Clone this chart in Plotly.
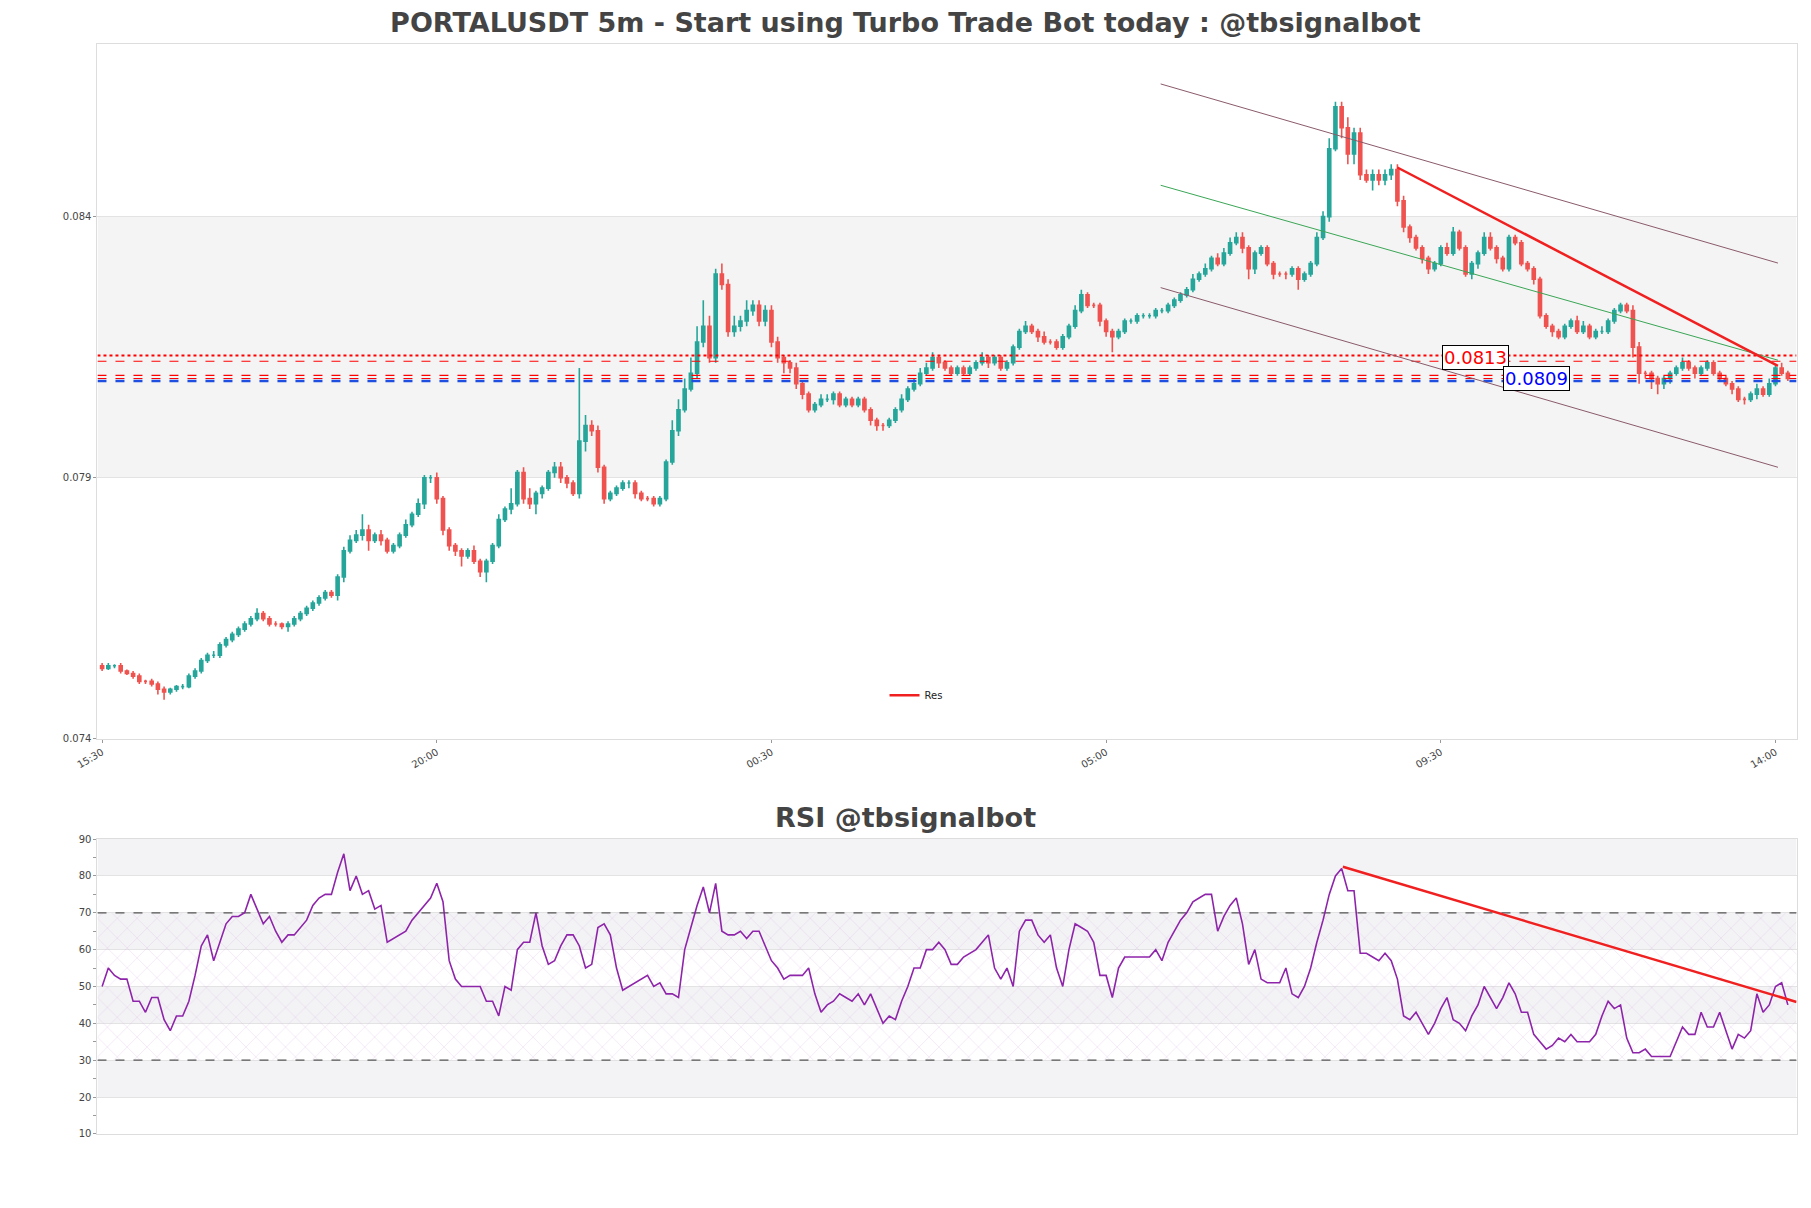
import datetime as dt
import plotly.graph_objects as go

# ---- data (prices in units of 0.0001) ----
closes = [
 753.5,754,754,753,752.5,752,751,751,750.5,749.5,749,749.5,
 750,750,752,753,755,756,756,758,759,760,761,762,
 763,764,763,762,762,761.5,762,763,764,765,766,767,
 768,767.5,771,776,778,779,780,778,779,778,776,777,
 779,781,783,785,790,790,786,780,777,776,775,776,
 774,772,774,777,782,784,785,791,786,785,787,788,
 791,792,790,789,787,797,800,799,792,786,787,788,
 789,789,787,786,786,785,786,793,799,803,807,810,
 816,819,813,829,827,818,819,820,822,823,820,822,
 816,813,812,811,808,806,803,804,805,805,806,804,
 805,804,805,803,801,800,800,801,803,805,807,808,
 810,811,813,812,811,810,811,810,811,812,813,812,
 813,811,812,815,818,819,818,817,816,816,815,817,
 819,822,825,823,823,820,818,817,818,820,820,821,
 821,821,822,822,823,824,825,826,828,829,830,832,
 831,833,835,836,834,830,833,834,831,829,829,829,
 830,828,829,831,836,840,853,861,857,852,856,848,
 847,848,847,848,849,843,838,836,834,832,830,831,
 834,833,837,834,829,831,833,836,834,832,830,836,
 835,831,830,828,821,819,818,817,819,820,818,819,
 817,818,818,820,822,823,822,815,810,810,809,808,
 809,810,811,812,811,810,811,812,810,809,808,807,
 805,805,806,807,806,808,811,810,809]
wick_up = [
 .5,.5,.3,.5,.3,.5,.5,.3,.5,.5,.5,.3,
 .3,.5,.5,.5,.5,.5,.8,.5,.5,.5,.5,.5,
 .5,1,.5,.5,.5,.3,.5,.5,.5,.5,.5,.5,
 .5,.5,.5,.8,1,1,3,1,.5,1,.5,.5,
 .5,1,.5,1,.5,.5,1,.5,.5,.5,.5,.5,
 1,.5,.5,.5,1,.5,3,.5,1,2,.5,.5,
 .5,1,1,.5,.5,14,2,1,1,.5,.5,.5,
 .5,.5,.5,.5,.5,.5,.5,.5,2,2,2,3,
 3,5,2,1,2,1,2,1,2,1,1,1,
 1,1,.5,.5,1,.5,.5,.5,1,1,.5,.5,
 .5,.5,.5,.5,.5,.5,.5,.5,.5,1,.5,1,
 1,1,1,.5,.5,.5,.5,.5,.5,.5,1,.5,
 .5,.5,.5,.5,.5,1,.5,.5,1,.5,.5,.5,
 .5,1,1,.5,.5,.5,.5,.5,.5,.5,.5,.5,
 .5,.5,.5,.5,.5,.5,.5,.5,1,.5,1,.5,
 1,1,1,1,1,.5,.5,.5,.5,.5,.5,.5,
 .5,.5,.5,.5,1,1,2,1,1,2,1,1,
 1,1,1,1,1,1,1,.5,.5,.5,.5,.5,
 .5,1,1,.5,.5,.5,.5,1,1,.5,.5,.5,
 .5,.5,.5,.5,.5,.5,.5,.5,.5,.5,1,1,
 .5,.5,1,.5,.5,.5,.5,1,1,.5,.5,.5,
 .5,.5,.5,1,.5,.5,.5,.5,.5,.5,.5,.5,
 .5,.5,.5,1,.5,1,.5,1,.5]
wick_dn = [
 .5,.3,.5,.5,.3,.5,.5,.5,.5,1,1.5,.5,
 .5,.5,.3,.5,.5,.5,.5,.5,.5,.5,.5,.5,
 .5,.5,.5,.5,.5,.5,1,.5,.5,.5,.5,.5,
 .5,.5,1,1,.5,.5,1,2,.5,1,.5,.5,
 .5,.5,.5,.5,1,1,1,1,1,1,2,.5,
 .5,1,2,.5,.5,.5,1,.5,1,1,2,1,
 .5,1,1,1,.5,1,2,1,1,1,.5,.5,
 .5,1,1,.5,.5,.5,.5,.5,.5,1,.5,.5,
 1,1,1,1,1,1,1,1,1,1,1,1,
 1,1,2,1,1,1,.5,.5,.5,.5,1,.5,
 .5,.5,.5,.5,1,1,1,.5,.5,.5,.5,.5,
 .5,.5,.5,1,.5,.5,.5,.5,.5,.5,.5,1,
 .5,.5,.5,.5,.5,.5,.5,1,.5,.5,.5,.5,
 .5,.5,.5,.5,.5,1,1,3,.5,.5,.5,.5,
 .5,.5,.5,.5,.5,.5,.5,.5,.5,.5,.5,.5,
 .5,.5,.5,.5,1,2,1,.5,.5,1,.5,1,
 .5,2,.5,.5,.5,.5,1,.5,2,2,2,1,
 .5,2,1,1,1,1,1,1,.5,1,1,.5,
 .5,.5,.5,.5,.5,1,1,.5,.5,1,.5,.5,
 .5,.5,.5,1,.5,.5,1,.5,.5,.5,.5,.5,
 .5,.5,.5,.5,.5,.5,.5,2,2,1,2,2,
 1,1,.5,.5,.5,1,.5,.5,.5,.5,.5,1,
 .5,1,.5,1,.5,.5,.5,.5,.5]
rsi = [
 50,55,53,52,52,46,46,43,47,47,41,38,
 42,42,46,53,61,64,57,62,67,69,69,70,
 75,71,67,69,65,62,64,64,66,68,72,74,
 75,75,81,86,76,80,75,76,71,72,62,63,
 64,65,68,70,72,74,78,73,57,52,50,50,
 50,50,46,46,42,50,49,60,62,62,70,61,
 56,57,61,64,64,61,55,56,66,67,64,55,
 49,50,51,52,53,50,51,48,48,47,60,66,
 72,77,70,78,65,64,64,65,63,65,65,61,
 57,55,52,53,53,53,55,48,43,45,46,48,
 47,46,48,45,48,44,40,42,41,46,50,55,
 55,60,60,62,60,56,56,58,59,60,62,64,
 55,52,55,50,65,68,68,64,62,64,55,50,
 60,67,66,65,62,53,53,47,55,58,58,58,
 58,58,60,57,62,65,68,70,73,74,75,75,
 65,69,72,74,67,56,60,52,51,51,51,55,
 48,47,50,55,62,68,75,80,82,76,76,59,
 59,58,57,59,57,52,42,41,43,40,37,40,
 44,47,41,40,38,42,45,50,47,44,47,51,
 48,43,43,37,35,33,34,36,35,37,35,35,
 35,37,42,46,44,45,36,32,32,33,31,31,
 31,31,35,39,37,37,43,39,39,43,38,33,
 37,36,38,48,43,45,50,51,45]
level_red = 0.0813
level_blue = 0.0809
h_lines = [(0.08134, "red", "dot", 2), (0.08123, "red", "dash", 1.2),
           (0.08096, "red", "dash", 1.2), (0.08090, "red", "dash", 1.2),
           (0.08085, "#1f4fe0", "dash", 2.5)]
chan_idx = [170.8, 270.4]
chan_up = [0.08654, 0.08311]
chan_mid = [0.08460, 0.08125]
chan_lo = [0.08264, 0.07920]
res_idx = [209, 270.4]
res_val = [0.08494, 0.08114]
rsi_res_idx = [200.2, 273.4]
rsi_res_val = [82.5, 45.8]

start = dt.datetime(2024, 3, 1, 15, 30)
step = dt.timedelta(minutes=5)
def t(i):
    return start + step * i

n = len(closes)
xs = [t(i) for i in range(n)]
c = [v / 1e4 for v in closes]
o = [c[0] + 0.00005] + c[:-1]
hi = [max(o[i], c[i]) + wick_up[i] / 1e4 for i in range(n)]
lo = [min(o[i], c[i]) - wick_dn[i] / 1e4 for i in range(n)]

fig = go.Figure()
x0, x1 = t(-0.75), t(273.4)

fig.add_shape(type="rect", xref="x", yref="y", x0=x0, x1=x1, y0=0.079, y1=0.084,
              fillcolor="#f4f4f4", line_width=0, layer="below")
for y, col, dash, w in h_lines:
    fig.add_trace(go.Scatter(x=[x0, x1], y=[y, y], mode="lines", showlegend=False,
                             line=dict(color=col, dash=dash, width=w), hoverinfo="skip"))

fig.add_trace(go.Candlestick(x=xs, open=o, high=hi, low=lo, close=c, showlegend=False,
                             increasing=dict(line=dict(color="#26a69a", width=1.6), fillcolor="#26a69a"),
                             decreasing=dict(line=dict(color="#ef5350", width=1.6), fillcolor="#ef5350"),
                             whiskerwidth=0))
cx = [t(v) for v in chan_idx]
fig.add_trace(go.Scatter(x=cx, y=chan_up, mode="lines", line=dict(color="#8a5a6a", width=1), showlegend=False))
fig.add_trace(go.Scatter(x=cx, y=chan_mid, mode="lines", line=dict(color="#3aa655", width=1), showlegend=False))
fig.add_trace(go.Scatter(x=cx, y=chan_lo, mode="lines", line=dict(color="#8a5a6a", width=1), showlegend=False))
fig.add_trace(go.Scatter(x=[t(v) for v in res_idx], y=res_val, mode="lines", name="Res",
                         line=dict(color="#f02020", width=2.5), showlegend=True))

fig.add_annotation(x=t(221.6), y=level_red, text="0.0813", showarrow=False, xref="x", yref="y",
                   font=dict(color="red", size=18), bgcolor="white", bordercolor="black",
                   borderwidth=1, borderpad=1)
fig.add_annotation(x=t(231.5), y=level_blue, text="0.0809", showarrow=False, xref="x", yref="y",
                   font=dict(color="blue", size=18), bgcolor="white", bordercolor="black",
                   borderwidth=1, borderpad=1)

for a, b in [(80, 90), (60, 70), (40, 50), (20, 30)]:
    fig.add_shape(type="rect", xref="x2", yref="y2", x0=x0, x1=x1, y0=a, y1=b,
                  fillcolor="#f3f3f5", line_width=0, layer="below")
fig.add_trace(go.Scatter(x=[x0, x1, x1, x0, x0], y=[30, 30, 70, 70, 30], xaxis="x2", yaxis="y2",
                         mode="lines", fill="toself", line=dict(width=0), showlegend=False,
                         fillcolor="rgba(0,0,0,0)",
                         fillpattern=dict(shape="x", fgcolor="rgba(205,150,220,0.7)",
                                          bgcolor="rgba(0,0,0,0)", size=14, solidity=0.08),
                         hoverinfo="skip"))
for lv in (70, 30):
    fig.add_trace(go.Scatter(x=[x0, x1], y=[lv, lv], xaxis="x2", yaxis="y2", mode="lines",
                             line=dict(color="#555", dash="dash", width=1.2), showlegend=False))
fig.add_trace(go.Scatter(x=xs, y=rsi, xaxis="x2", yaxis="y2", mode="lines",
                         line=dict(color="#8e24aa", width=1.6), showlegend=False))
fig.add_trace(go.Scatter(x=[t(v) for v in rsi_res_idx], y=rsi_res_val, xaxis="x2", yaxis="y2",
                         mode="lines", line=dict(color="#f02020", width=2.5), showlegend=False))

font = "DejaVu Sans"
axcommon = dict(showline=True, linecolor="#dddddd", mirror=True, ticks="outside", automargin=False,
                tickcolor="#999", ticklen=3, tickfont=dict(size=10, color="#444"))
xd = [0.0494, 0.9876]
fig.update_layout(
    width=1811, height=1208, paper_bgcolor="white", plot_bgcolor="white",
    margin=dict(l=0, r=0, t=0, b=0), font=dict(family=font, color="#444"),
    title=dict(text="<b>PORTALUSDT 5m - Start using Turbo Trade Bot today : @tbsignalbot</b>",
               x=0.4955, xanchor="center", y=0.988, yanchor="middle", automargin=False,
               font=dict(size=27, color="#444", family=font)),
    xaxis=dict(domain=xd, range=[x0, x1], rangeslider=dict(visible=False),
               tick0=start, dtick=16200000, tickformat="%H:%M", tickangle=-30,
               showgrid=False, **axcommon),
    yaxis=dict(domain=[0.395, 0.970], range=[0.074, 0.0873], tick0=0.074, dtick=0.005,
               tickformat=".3f", showgrid=True, gridcolor="#e3e3e3", zeroline=False, **axcommon),
    xaxis2=dict(domain=xd, range=[x0, x1], anchor="y2", showticklabels=False,
                showgrid=False, showline=True, linecolor="#dddddd", mirror=True, automargin=False),
    yaxis2=dict(domain=[0.068, 0.312], range=[10, 90], dtick=10, anchor="x2",
                showgrid=True, gridcolor="#e3e3e3", zeroline=False,
                minor=dict(dtick=5, ticks="outside", ticklen=3, tickcolor="#999", showgrid=False),
                **axcommon),
    legend=dict(x=0.484, y=0.431, xanchor="left", yanchor="middle", bgcolor="rgba(0,0,0,0)",
                font=dict(size=10, color="#222")),
    annotations=list(fig.layout.annotations) + [
        dict(text="<b>RSI @tbsignalbot</b>", x=0.4955, y=0.3155, xref="paper", yref="paper",
             showarrow=False, font=dict(size=27, color="#444", family=font))],
)
fig.write_html("out.html")
